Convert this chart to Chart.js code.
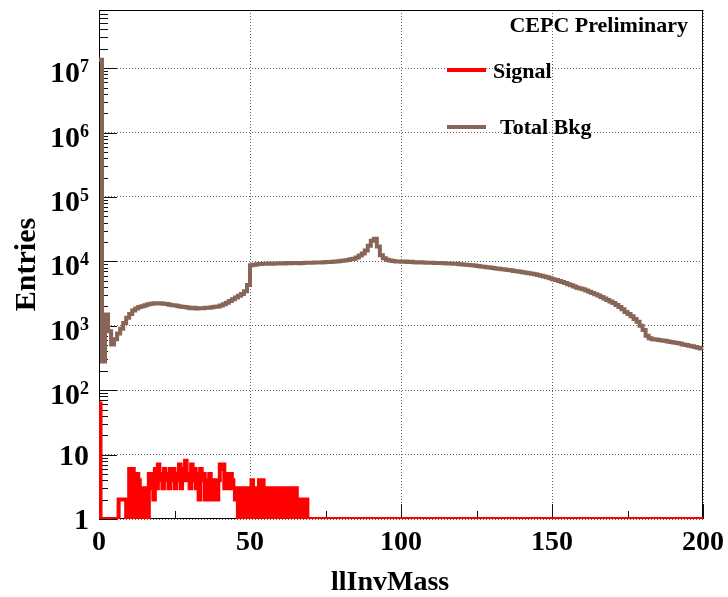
<!DOCTYPE html>
<html>
<head>
<meta charset="utf-8">
<script src="https://cdn.jsdelivr.net/npm/chart.js@4"></script>
<style>
  body { margin: 0; background: #fff; }
  canvas { display: block; }
</style>
</head>
<body>
<canvas id="myChart" width="728" height="597"></canvas>
<script>
// llInvMass histograms, range 0 - 200 GeV

const rangeLow = 0;
const rangeHigh = 200;

// Total background, 1 GeV bins, entries per bin
const bkgBinWidth = 1;
const bkgCounts = [
  13500000, 280, 1500, 820, 510, 620, 760, 900, 1100, 1330,
  1530, 1720, 1860, 1950, 2010, 2080, 2150, 2200, 2240, 2220,
  2230, 2190, 2170, 2120, 2090, 2060, 2010, 1980, 1950, 1930,
  1880, 1900, 1860, 1870, 1880, 1900, 1910, 1940, 1970, 2000,
  2060, 2150, 2280, 2420, 2580, 2760, 2930, 3120, 3450, 4300,
  8700, 8900, 9000, 9100, 9200, 9150, 9250, 9200, 9300, 9250,
  9350, 9300, 9400, 9350, 9450, 9400, 9350, 9450, 9500, 9480,
  9550, 9600, 9650, 9620, 9700, 9750, 9800, 9900, 9950, 10050,
  10200, 10350, 10500, 10750, 11000, 11500, 12300, 13300, 14800, 17500,
  21000, 22500, 17000, 12500, 11200, 10600, 10300, 10100, 10000, 9950,
  9900, 9950, 9800, 9850, 9700, 9650, 9700, 9600, 9550, 9500,
  9500, 9450, 9400, 9420, 9350, 9300, 9250, 9200, 9150, 9050,
  8980, 8900, 8800, 8700, 8600, 8480, 8350, 8250, 8120, 8000,
  7900, 7780, 7680, 7580, 7450, 7330, 7250, 7120, 7000, 6880,
  6780, 6650, 6550, 6420, 6300, 6150, 6000, 5820, 5650, 5450,
  5300, 5130, 4950, 4780, 4600, 4420, 4250, 4080, 3900, 3780,
  3680, 3520, 3370, 3220, 3080, 2940, 2800, 2660, 2520, 2380,
  2250, 2100, 1950, 1800, 1640, 1520, 1400, 1280, 1160, 1000,
  860, 700, 640, 620, 610, 600, 590, 585, 570, 560,
  550, 540, 530, 510, 505, 490, 480, 470, 455, 445
];

// Signal, 0.5 GeV bins from 0 to 70 GeV (empty above), entries per bin
const sigBinWidth = 0.5;
const sigCounts = [
  62, 0, 0, 0, 0, 0, 0, 0, 0, 0,
  0, 0, 0, 2, 2, 2, 2, 2, 0, 0,
  6, 0, 6, 5, 0, 5, 4, 0, 3, 0,
  3, 0, 0, 5, 3, 5, 2, 6, 3, 7,
  4, 5, 3, 6, 4, 5, 3, 6, 4, 6,
  3, 5, 4, 7, 3, 6, 4, 8, 4, 5,
  3, 7, 4, 6, 3, 5, 2, 6, 4, 5,
  2, 2, 4, 5, 2, 2, 4, 3, 2, 4,
  7, 6, 7, 3, 3, 5, 3, 5, 4, 3,
  2, 3, 0, 3, 0, 3, 3, 0, 3, 0,
  3, 4, 0, 3, 0, 3, 4, 0, 4, 3,
  0, 0, 3, 0, 3, 3, 0, 3, 0, 3,
  3, 0, 3, 0, 3, 3, 0, 3, 0, 3,
  3, 0, 2, 0, 2, 2, 0, 2, 0, 0
];

const xTicks = [0, 50, 100, 150, 200];
const xMinorTicks = [25, 75, 125, 175];
const yDecades = [1, 10, 100, 1000, 10000, 100000, 1000000, 10000000];
const yMin = 1;
const yMax = 8e7;

const seriesNames = ['Signal', 'Total Bkg'];
const sigColor = '#ff0000';
const bkgColor = '#876657';
const gridColor = 'rgba(0, 0, 0, 0.6)';
const serif = 'Liberation Serif, Times New Roman, serif';

// bin counts -> left-edge points for a stepped line, closed at the range end
function histPoints(counts, width) {
  const pts = counts.map((c, i) => ({ x: rangeLow + i * width, y: Math.max(c, yMin) }));
  const end = rangeLow + counts.length * width;
  if (end < rangeHigh) {
    pts.push({ x: end, y: yMin });
  }
  pts.push({ x: rangeHigh, y: pts[pts.length - 1].y });
  return pts;
}

// ROOT-like frame, inner ticks, log labels and the legend
const rootStyle = {
  id: 'rootStyle',
  beforeDatasetsDraw(chart) {
    const { ctx, chartArea: a, scales: { x, y } } = chart;
    ctx.save();
    ctx.strokeStyle = '#111';
    ctx.lineWidth = 1;
    ctx.beginPath();
    xTicks.forEach(v => {
      const px = Math.round(x.getPixelForValue(v)) + 0.5;
      ctx.moveTo(px, a.bottom);
      ctx.lineTo(px, a.bottom - 15);
    });
    xMinorTicks.forEach(v => {
      const px = Math.round(x.getPixelForValue(v)) + 0.5;
      ctx.moveTo(px, a.bottom);
      ctx.lineTo(px, a.bottom - 8);
    });
    yDecades.forEach(d => {
      for (let k = 1; k <= 9; k++) {
        const v = k * d;
        if (v > yMax) break;
        const py = Math.round(y.getPixelForValue(v)) + 0.5;
        ctx.moveTo(a.left, py);
        ctx.lineTo(a.left + (k === 1 ? 18 : 9), py);
      }
    });
    ctx.stroke();
    ctx.strokeStyle = '#000';
    ctx.strokeRect(a.left + 0.5, a.top + 0.5, a.right - a.left - 1, a.bottom - a.top - 1);
    ctx.restore();
  },
  afterDraw(chart) {
    const { ctx, scales: { y } } = chart;
    ctx.save();
    ctx.fillStyle = '#000';
    ctx.textAlign = 'right';
    ctx.textBaseline = 'alphabetic';
    yDecades.forEach(v => {
      const n = Math.round(Math.log10(v));
      const py = y.getPixelForValue(v);
      if (n < 2) {
        ctx.font = 'bold 30px ' + serif;
        ctx.fillText(n === 0 ? '1' : '10', 89, py + 10);
      } else {
        ctx.font = 'bold 18px ' + serif;
        const ew = ctx.measureText(String(n)).width;
        ctx.fillText(String(n), 89, py + 4);
        ctx.font = 'bold 30px ' + serif;
        ctx.fillText('10', 89 - ew, py + 14);
      }
    });

    // x axis title
    ctx.textAlign = 'left';
    ctx.font = 'bold 28px ' + serif;
    ctx.fillText('llInvMass', 331, 590);

    // legend
    ctx.font = 'bold 22px ' + serif;
    ctx.lineWidth = 4;
    ctx.strokeStyle = sigColor;
    ctx.beginPath(); ctx.moveTo(447, 70); ctx.lineTo(486, 70); ctx.stroke();
    ctx.fillText(seriesNames[0], 493, 78);
    ctx.strokeStyle = bkgColor;
    ctx.beginPath(); ctx.moveTo(447, 127); ctx.lineTo(486, 127); ctx.stroke();
    ctx.fillText(seriesNames[1], 500, 134);

    ctx.textAlign = 'right';
    ctx.fillText('CEPC Preliminary', 688, 32);
    ctx.restore();
  }
};

const ctx = document.getElementById('myChart');

new Chart(ctx, {
  type: 'line',
  data: {
    datasets: [
      {
        label: seriesNames[0],
        data: histPoints(sigCounts, sigBinWidth),
        borderColor: sigColor,
        borderWidth: 4,
        stepped: 'before',
        pointRadius: 0,
        fill: false
      },
      {
        label: seriesNames[1],
        data: histPoints(bkgCounts, bkgBinWidth),
        borderColor: bkgColor,
        borderWidth: 4,
        stepped: 'before',
        pointRadius: 0,
        fill: false
      }
    ]
  },
  options: {
    responsive: false,
    animation: false,
    layout: { padding: { top: 10, right: 25, left: 0, bottom: 0 } },
    plugins: {
      legend: { display: false },
      tooltip: { enabled: false }
    },
    scales: {
      x: {
        type: 'linear',
        min: rangeLow,
        max: rangeHigh,
        afterBuildTicks: (s) => { s.ticks = xTicks.map(v => ({ value: v })); },
        afterFit: (s) => {
          s.height = 78;
          s.paddingLeft = 0;
          s.paddingRight = 0;
        },
        grid: { color: gridColor, lineWidth: 1, drawTicks: false },
        border: { display: false, dash: [1, 2] },
        ticks: {
          color: '#000',
          padding: 7,
          maxRotation: 0,
          autoSkip: false,
          font: { family: serif, size: 28, weight: 'bold' }
        }
      },
      y: {
        type: 'logarithmic',
        min: yMin,
        max: yMax,
        afterBuildTicks: (s) => { s.ticks = yDecades.map(v => ({ value: v })); },
        afterFit: (s) => { s.width = 99; },
        grid: { color: gridColor, lineWidth: 1, drawTicks: false },
        border: { display: false, dash: [1, 2] },
        ticks: { display: false },
        title: {
          display: true,
          text: 'Entries',
          color: '#000',
          padding: { top: 9, bottom: 0 },
          font: { family: serif, size: 30, weight: 'bold' }
        }
      }
    }
  },
  plugins: [rootStyle]
});
</script>
</body>
</html>
